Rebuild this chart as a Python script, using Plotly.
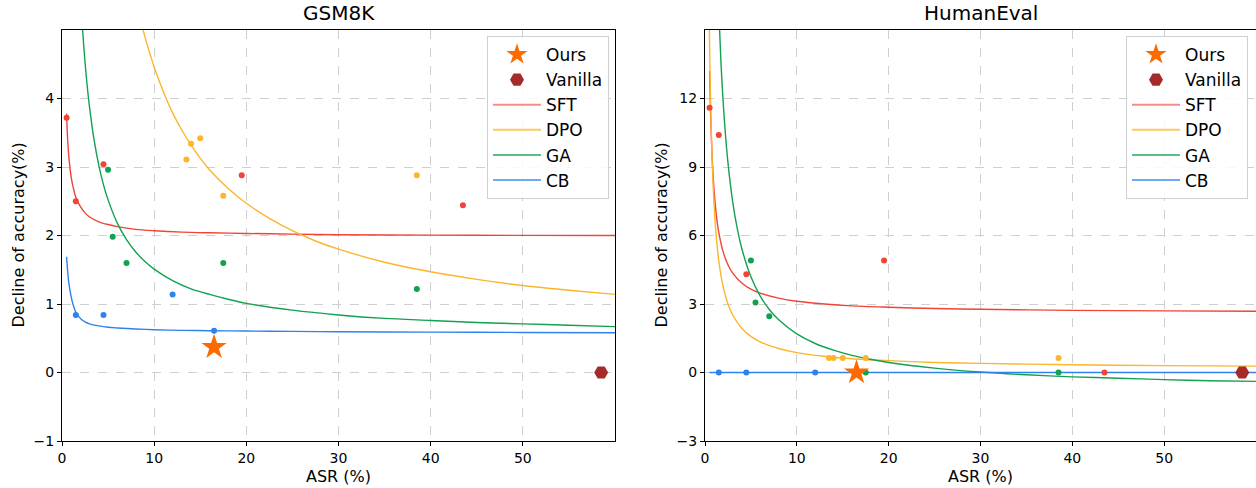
import plotly.graph_objects as go

# ---------------- data ----------------
# GSM8K scatter points
gsm_sft_x = [0.5, 1.5, 4.5, 19.5, 43.5]
gsm_sft_y = [3.72, 2.50, 3.04, 2.88, 2.44]
gsm_dpo_x = [13.5, 14.0, 15.0, 17.5, 38.5]
gsm_dpo_y = [3.11, 3.34, 3.42, 2.58, 2.88]
gsm_ga_x = [5.0, 5.5, 7.0, 17.5, 38.5]
gsm_ga_y = [2.96, 1.98, 1.60, 1.60, 1.22]
gsm_cb_x = [1.5, 4.5, 12.0, 16.5]
gsm_cb_y = [0.84, 0.84, 1.14, 0.61]
gsm_ours = [16.5, 0.37]
gsm_vanilla = [58.5, 0.0]

# GSM8K fitted curves
gsm_sft_cx = [0.5, 0.6, 0.75, 1.0, 1.25, 1.5, 2.0, 2.5, 3.0, 4.0, 5.0, 6.0, 8.0, 10, 13, 16, 20, 25, 30, 40, 50, 60]
gsm_sft_cy = [3.78, 3.43, 3.14, 2.85, 2.68, 2.56, 2.42, 2.33, 2.27, 2.20, 2.16, 2.13, 2.09, 2.07, 2.05, 2.04, 2.03, 2.02, 2.01, 2.005, 2.002, 2.0]
gsm_dpo_cx = [7, 8, 9, 10, 11, 12, 13, 14, 15, 16, 18, 20, 22.5, 25, 27.5, 30, 35, 40, 45, 50, 55, 60]
gsm_dpo_cy = [6.16, 5.45, 4.90, 4.46, 4.10, 3.79, 3.54, 3.32, 3.13, 2.96, 2.69, 2.47, 2.25, 2.07, 1.92, 1.80, 1.61, 1.47, 1.36, 1.27, 1.20, 1.14]
gsm_ga_cx = [1.8, 2.0, 2.25, 2.5, 2.75, 3.0, 3.5, 4.0, 4.5, 5.0, 6.0, 7.0, 8.0, 9.0, 10, 12, 14, 16, 18, 20, 25, 30, 35, 40, 45, 50, 55, 60]
gsm_ga_cy = [6.09, 5.53, 4.97, 4.53, 4.16, 3.86, 3.38, 3.02, 2.74, 2.52, 2.18, 1.94, 1.76, 1.62, 1.51, 1.34, 1.22, 1.14, 1.07, 1.01, 0.91, 0.84, 0.79, 0.76, 0.73, 0.71, 0.69, 0.67]
gsm_cb_cx = [0.5, 0.6, 0.75, 1.0, 1.25, 1.5, 2.0, 2.5, 3.0, 4.0, 5.0, 6.0, 8.0, 10, 13, 16, 20, 25, 30, 40, 50, 60]
gsm_cb_cy = [1.69, 1.50, 1.30, 1.10, 0.97, 0.88, 0.79, 0.74, 0.71, 0.68, 0.66, 0.65, 0.635, 0.625, 0.615, 0.61, 0.605, 0.60, 0.595, 0.59, 0.585, 0.58]

# HumanEval scatter points
he_sft_x = [0.5, 1.5, 4.5, 19.5, 43.5]
he_sft_y = [11.6, 10.4, 4.3, 4.9, 0.0]
he_dpo_x = [13.5, 14.0, 15.0, 17.5, 38.5]
he_dpo_y = [0.64, 0.64, 0.64, 0.64, 0.64]
he_ga_x = [5.0, 5.5, 7.0, 17.5, 38.5]
he_ga_y = [4.9, 3.07, 2.46, 0.0, 0.0]
he_cb_x = [1.5, 4.5, 12.0, 16.5]
he_cb_y = [0.0, 0.0, 0.0, 0.0]
he_ours = [16.5, 0.0]
he_vanilla = [58.5, 0.0]

# HumanEval fitted curves
he_sft_cx = [0.5, 0.6, 0.75, 1.0, 1.25, 1.5, 2.0, 2.5, 3.0, 4.0, 5.0, 6.0, 8.0, 10, 13, 16, 20, 25, 30, 40, 50, 60]
he_sft_cy = [13.2, 11.46, 9.68, 7.91, 6.85, 6.14, 5.25, 4.72, 4.36, 3.92, 3.65, 3.48, 3.26, 3.12, 3.00, 2.92, 2.86, 2.80, 2.77, 2.72, 2.70, 2.68]
he_dpo_cx = [0.45, 0.5, 0.6, 0.75, 1.0, 1.25, 1.5, 2.0, 2.5, 3.0, 4.0, 5.0, 6.0, 8.0, 10, 13, 16, 20, 25, 30, 40, 50, 60]
he_dpo_cy = [15.94, 14.36, 11.99, 9.63, 7.26, 5.84, 4.89, 3.71, 3.00, 2.53, 1.94, 1.58, 1.34, 1.05, 0.87, 0.71, 0.60, 0.52, 0.44, 0.40, 0.34, 0.30, 0.28]
he_ga_cx = [1.5, 1.75, 2.0, 2.25, 2.5, 3.0, 3.5, 4.0, 5.0, 6.0, 7.0, 8.0, 10, 12, 14, 16, 18, 20, 25, 30, 35, 40, 45, 50, 55, 60]
he_ga_cy = [15.86, 13.48, 11.69, 10.30, 9.19, 7.52, 6.33, 5.44, 4.19, 3.36, 2.76, 2.32, 1.69, 1.27, 0.98, 0.75, 0.58, 0.44, 0.19, 0.02, -0.10, -0.19, -0.25, -0.31, -0.36, -0.39]
he_cb_cx = [0.5, 5, 10, 20, 30, 40, 50, 60]
he_cb_cy = [0.0, 0.0, 0.0, 0.0, 0.0, 0.0, 0.0, 0.0]

methods = ["SFT", "DPO", "GA", "CB"]
colors = {"SFT": "#F04438", "DPO": "#FDB52C", "GA": "#12A150", "CB": "#2F82EE"}
legend_colors = {"SFT": "#F58C86", "DPO": "#FDC95E", "GA": "#5ABF86", "CB": "#6FA8F3"}
ours_color = "#FF6A00"
vanilla_color = "#A52A2A"

FONT = "DejaVu Sans"

panels = [
    dict(name="GSM8K", xa="x", ya="y", leg="legend",
         curves={"SFT": (gsm_sft_cx, gsm_sft_cy), "DPO": (gsm_dpo_cx, gsm_dpo_cy),
                 "GA": (gsm_ga_cx, gsm_ga_cy), "CB": (gsm_cb_cx, gsm_cb_cy)},
         points={"SFT": (gsm_sft_x, gsm_sft_y), "DPO": (gsm_dpo_x, gsm_dpo_y),
                 "GA": (gsm_ga_x, gsm_ga_y), "CB": (gsm_cb_x, gsm_cb_y)},
         ours=gsm_ours, vanilla=gsm_vanilla),
    dict(name="HumanEval", xa="x2", ya="y2", leg="legend2",
         curves={"SFT": (he_sft_cx, he_sft_cy), "DPO": (he_dpo_cx, he_dpo_cy),
                 "GA": (he_ga_cx, he_ga_cy), "CB": (he_cb_cx, he_cb_cy)},
         points={"SFT": (he_sft_x, he_sft_y), "DPO": (he_dpo_x, he_dpo_y),
                 "GA": (he_ga_x, he_ga_y), "CB": (he_cb_x, he_cb_y)},
         ours=he_ours, vanilla=he_vanilla),
]

fig = go.Figure()
for p in panels:
    # legend-only entries (lighter colours as in the reference legend)
    fig.add_trace(go.Scatter(x=[None], y=[None], mode="markers", name="Ours",
                             marker=dict(symbol="star", size=18, color=ours_color),
                             xaxis=p["xa"], yaxis=p["ya"], legend=p["leg"], legendrank=1))
    fig.add_trace(go.Scatter(x=[None], y=[None], mode="markers", name="Vanilla",
                             marker=dict(symbol="hexagon2", size=14, color=vanilla_color),
                             xaxis=p["xa"], yaxis=p["ya"], legend=p["leg"], legendrank=2))
    for i, m in enumerate(methods):
        fig.add_trace(go.Scatter(x=[None], y=[None], mode="lines", name=m,
                                 line=dict(color=legend_colors[m], width=2),
                                 xaxis=p["xa"], yaxis=p["ya"], legend=p["leg"], legendrank=3 + i))
    # curves
    for m in methods:
        cx, cy = p["curves"][m]
        fig.add_trace(go.Scatter(x=cx, y=cy, mode="lines", showlegend=False,
                                 line=dict(color=colors[m], width=1.4, shape="spline", smoothing=0.8),
                                 xaxis=p["xa"], yaxis=p["ya"], hoverinfo="skip"))
    # points
    for m in methods:
        px, py = p["points"][m]
        fig.add_trace(go.Scatter(x=px, y=py, mode="markers", showlegend=False,
                                 marker=dict(color=colors[m], size=6),
                                 xaxis=p["xa"], yaxis=p["ya"]))
    fig.add_trace(go.Scatter(x=[p["vanilla"][0]], y=[p["vanilla"][1]], mode="markers", showlegend=False,
                             marker=dict(symbol="hexagon2", size=14, color=vanilla_color),
                             xaxis=p["xa"], yaxis=p["ya"], cliponaxis=False))
    fig.add_trace(go.Scatter(x=[p["ours"][0]], y=[p["ours"][1]], mode="markers", showlegend=False,
                             marker=dict(symbol="star", size=19, color=ours_color),
                             xaxis=p["xa"], yaxis=p["ya"], cliponaxis=False))

W, H = 1256, 488
ML, MR, MT, MB = 0, 0, 30, 47
PW = W - ML - MR
PH = H - MT - MB

axis_common = dict(
    showline=True, linecolor="black", linewidth=1, mirror=True,
    ticks="outside", ticklen=4, tickcolor="black", tickwidth=1,
    showgrid=True, gridcolor="#cfcfcf", griddash="dash", gridwidth=1,
    zeroline=False, automargin=False, tickfont=dict(family=FONT, size=14, color="black"),
)

legend_common = dict(xanchor="right", yanchor="top", bgcolor="rgba(255,255,255,0.85)",
                     bordercolor="#d0d0d0", borderwidth=1, itemwidth=48,
                     font=dict(family=FONT, size=17, color="black"), tracegroupgap=0)

fig.update_layout(
    width=W, height=H,
    margin=dict(l=ML, r=MR, t=MT, b=MB, autoexpand=False),
    paper_bgcolor="white", plot_bgcolor="white",
    font=dict(family=FONT, color="black"),
    xaxis=dict(domain=[62 / PW, 615 / PW], range=[0, 60], tickvals=[0, 10, 20, 30, 40, 50], **axis_common),
    yaxis=dict(domain=[0, 1], range=[-1, 5], tickvals=[-1, 0, 1, 2, 3, 4], anchor="x", **axis_common),
    xaxis2=dict(domain=[705 / PW, 1.0], range=[0, 60], tickvals=[0, 10, 20, 30, 40, 50], anchor="y2", **axis_common),
    yaxis2=dict(domain=[0, 1], range=[-3, 15], tickvals=[-3, 0, 3, 6, 9, 12], anchor="x2", **axis_common),
    legend=dict(x=609 / PW, y=1 - 6 / PH, **legend_common),
    legend2=dict(x=1248 / PW, y=1 - 6 / PH, **legend_common),
    showlegend=True,
)

annotations = []
for p, xd, yd in [(panels[0], "x domain", "y domain"), (panels[1], "x2 domain", "y2 domain")]:
    annotations.append(dict(text=p["name"], xref=xd, yref=yd, x=0.5, y=1, xanchor="center", yanchor="bottom",
                            yshift=3, showarrow=False, font=dict(family=FONT, size=20, color="black")))
    annotations.append(dict(text="ASR (%)", xref=xd, yref=yd, x=0.5, y=0, xanchor="center", yanchor="middle",
                            yshift=-35, showarrow=False, font=dict(family=FONT, size=16, color="black")))
    annotations.append(dict(text="Decline of accuracy(%)", xref=xd, yref=yd, x=0, y=0.5, xanchor="center",
                            yanchor="middle", xshift=-44, textangle=-90, showarrow=False,
                            font=dict(family=FONT, size=16, color="black")))
fig.update_layout(annotations=annotations)

fig.write_html("out.html")
